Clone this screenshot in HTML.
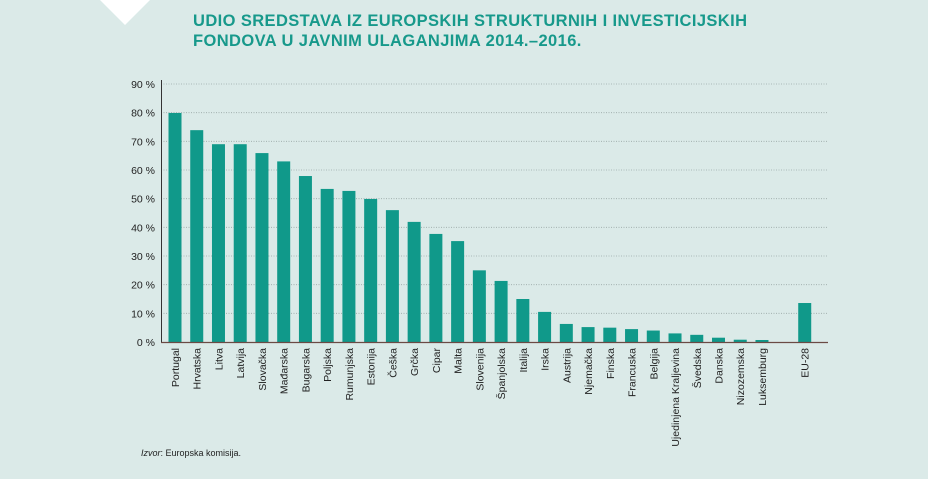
<!DOCTYPE html>
<html><head><meta charset="utf-8"><style>
html,body{margin:0;padding:0;}
body{width:928px;height:479px;background:#dbeae8;position:relative;overflow:hidden;font-family:"Liberation Sans",sans-serif;}
#title{position:absolute;left:193px;top:11px;color:#17998b;font-size:16.5px;line-height:20px;letter-spacing:0.4px;font-weight:bold;}
#src{position:absolute;left:141px;top:448px;font-size:9px;color:#222;}
svg{position:absolute;left:0;top:0;}
</style></head><body>
<svg width="928" height="479">
<polygon points="100,0 150,0 125,25" fill="#ffffff"/>
<g id="grid"></g><g id="bars"></g><g id="axes"></g>
</svg>
<div id="title">UDIO SREDSTAVA IZ EUROPSKIH STRUKTURNIH I INVESTICIJSKIH<br>FONDOVA U JAVNIM ULAGANJIMA 2014.–2016.</div>
<div id="src"><i>Izvor</i>: Europska komisija.</div>
<script>
const categories=["Portugal","Hrvatska","Litva","Latvija","Slovačka","Mađarska","Bugarska","Poljska","Rumunjska","Estonija","Češka","Grčka","Cipar","Malta","Slovenija","Španjolska","Italija","Irska","Austrija","Njemačka","Finska","Francuska","Belgija","Ujedinjena Kraljevina","Švedska","Danska","Nizozemska","Luksemburg","EU-28"];
const values=[79.9,73.9,69,69,65.9,63,57.9,53.4,52.7,49.9,46,41.9,37.7,35.2,25,21.3,15,10.5,6.3,5.2,5,4.5,4,3,2.5,1.5,0.8,0.7,13.6];
const ticks=[0,10,20,30,40,50,60,70,80,90];
const NS="http://www.w3.org/2000/svg";
const y0=342,pxPer=258/90,x0=175,step=21.74,bw=13;
function yS(v){return y0-v*pxPer;}
function xS(i){return x0+i*step+(i===categories.length-1?21:0);}
const grid=document.getElementById('grid'),bars=document.getElementById('bars'),axes=document.getElementById('axes');
function mk(tag,attrs,parent){const e=document.createElementNS(NS,tag);for(const k in attrs)e.setAttribute(k,attrs[k]);parent.appendChild(e);return e;}
ticks.forEach(t=>{
  if(t>0){const l=mk('line',{x1:161,x2:828,y1:yS(t),y2:yS(t),stroke:'#9aa8a6','stroke-width':0.8,'stroke-dasharray':'1 1.5'},grid);
  
  }
  const tx=mk('text',{x:155,y:yS(t)+4,'text-anchor':'end','font-size':10.5,fill:'#222'},axes);
  tx.textContent=t+' %';
  
  
});
values.forEach((v,i)=>{
  const cx=xS(i);
  const r=mk('rect',{x:cx-bw/2,y:yS(v),width:bw,height:y0-yS(v),fill:'#10998a'},bars);
  
  
  const tx=mk('text',{x:0,y:0,'text-anchor':'end','font-size':10.5,fill:'#222',transform:`translate(${cx+4},348) rotate(-90)`},axes);
  tx.textContent=categories[i];
  
  
});
const ya=mk('line',{x1:161.5,x2:161.5,y1:80,y2:343,stroke:'#333','stroke-width':1},axes);


const xa=mk('line',{x1:161,x2:828,y1:342.5,y2:342.5,stroke:'#6b4a44','stroke-width':1.3},axes);


</script>
</body></html>
